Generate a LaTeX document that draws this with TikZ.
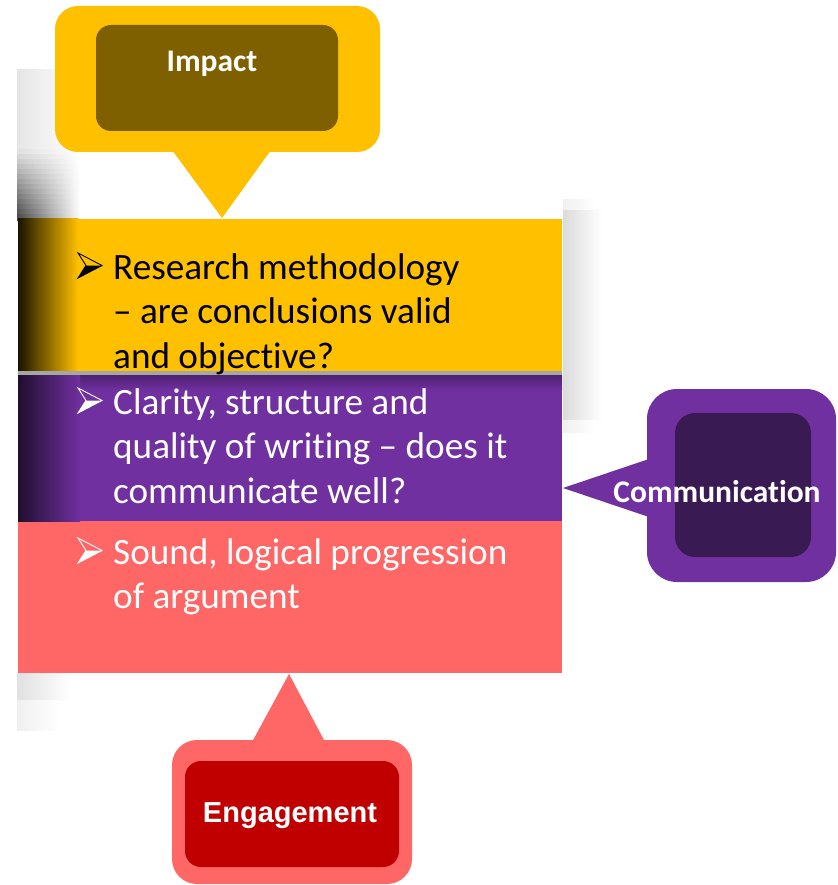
\documentclass[tikz,border=0pt]{standalone}
\usepackage{fontspec}
\setmainfont{Carlito}[Ligatures={TeX,NoCommon}]
\newfontfamily\arialfont{Liberation Sans}
\definecolor{cyel}{HTML}{FFC000}
\definecolor{colive}{HTML}{7F6000}
\definecolor{cpur}{HTML}{7030A0}
\definecolor{cdpur}{HTML}{3A1A52}
\definecolor{ccoral}{HTML}{FF6666}
\definecolor{cdred}{HTML}{C00000}
\tikzset{
  pics/bul/.style={code={
    \fill[#1] (0,0) -- (-16,0) -- (-24,12.5) -- cycle;
    \draw[#1, line width=0.9pt, line join=miter] (0,0) -- (-24,-12.5) -- (-16,0) -- (-24,12.5) -- cycle;
  }},
  bodytext/.style={anchor=base west, inner sep=0pt},
  calltext/.style={anchor=base, inner sep=0pt, text=white, font=\fontsize{31.5}{36}\selectfont\bfseries},
}
\newcommand{\bodylines}[1]{\parbox[t]{460pt}{\raggedright\fontsize{37.2}{44.8}\selectfont #1}}
\begin{document}
\begin{tikzpicture}[x=1pt,y=-1pt]
\useasboundingbox (0,0) rectangle (837,885);
\fill[white] (0,0) rectangle (837,885);

% soft shadows
\shade[left color=black!10, right color=white, shading angle=90] (17,70) rectangle (80,150);
\foreach \k in {0,...,13} {
  \pgfmathsetmacro{\dk}{12+4.5*\k}
  \shade[left color=black!\dk, right color=white] (17,{150+5*\k}) rectangle (80,{155.6+5*\k});
}
\shade[left color=black!14, right color=white] (563,210) rectangle (602,420);
\shade[left color=black!6, right color=white] (563,200) rectangle (595,210);
\shade[left color=black!6, right color=white] (563,420) rectangle (595,432);
\shade[left color=black!12, right color=white] (17,673) rectangle (70,700);
\shade[left color=black!6, right color=white] (17,700) rectangle (60,730);

% stacked boxes
\node[fill=cyel, inner sep=0pt, minimum width=544pt, minimum height=152pt, anchor=north west] (ybox) at (18,219) {};
\shade[left color=black!90!cyel, right color=cyel] (18,219) rectangle (78,371);
\fill[black!35] (18,371) rectangle (562,375);
\node[fill=cpur, inner sep=0pt, minimum width=544pt, minimum height=146pt, anchor=north west] (pbox) at (18,375) {};
\node[fill=ccoral, inner sep=0pt, minimum width=544pt, minimum height=152pt, anchor=north west] (cbox) at (18,521) {};
\shade[top color=cpur!70!black, bottom color=cpur] (18,375) rectangle (562,390);
\shade[left color=black!70!cpur, right color=cpur] (18,375) rectangle (80,521);

% bullets and texts
\pic at (102,265.5) {bul=black};
\node[bodytext, text=black] (t1) at (113,279) {\bodylines{Research methodology\\– are conclusions valid\\and objective?}};
\pic at (102,400.5) {bul=white};
\node[bodytext, text=white] (t2) at (113,414) {\bodylines{Clarity, structure and\\quality of writing – does it\\communicate well?}};
\pic at (102,550.5) {bul=white};
\node[bodytext, text=white] (t3) at (113,564) {\bodylines{Sound, logical progression\\of argument}};

% Impact callout
\fill[cyel, rounded corners=23pt] (55,6) rectangle (380,152);
\fill[cyel] (172,150) -- (271,150) -- (222,218) -- cycle;
\node[fill=colive, rounded corners=15pt, inner sep=0pt, minimum width=242pt, minimum height=106pt] (impbox) at (217,78) {};
\node[calltext] (impact) at (212,72) {Impact};

% Communication callout
\fill[cpur, rounded corners=30pt] (647,389) rectangle (836,582);
\fill[cpur] (649,459) -- (563,488) -- (649,517) -- cycle;
\node[fill=cdpur, rounded corners=20pt, inner sep=0pt, minimum width=136pt, minimum height=144pt] (combox) at (743,485) {};
\node[calltext] (comm) at (717,502) {Communication};

% Engagement callout
\fill[ccoral, rounded corners=25pt] (172,740) rectangle (412,884);
\fill[ccoral] (252,742) -- (289,674) -- (325,742) -- cycle;
\node[fill=cdred, rounded corners=16pt, inner sep=0pt, minimum width=214pt, minimum height=106pt] (engbox) at (292,814) {};
\node[calltext, font=\arialfont\fontsize{29}{34}\selectfont\bfseries] (eng) at (290,822) {Engagement};
\end{tikzpicture}
\end{document}
